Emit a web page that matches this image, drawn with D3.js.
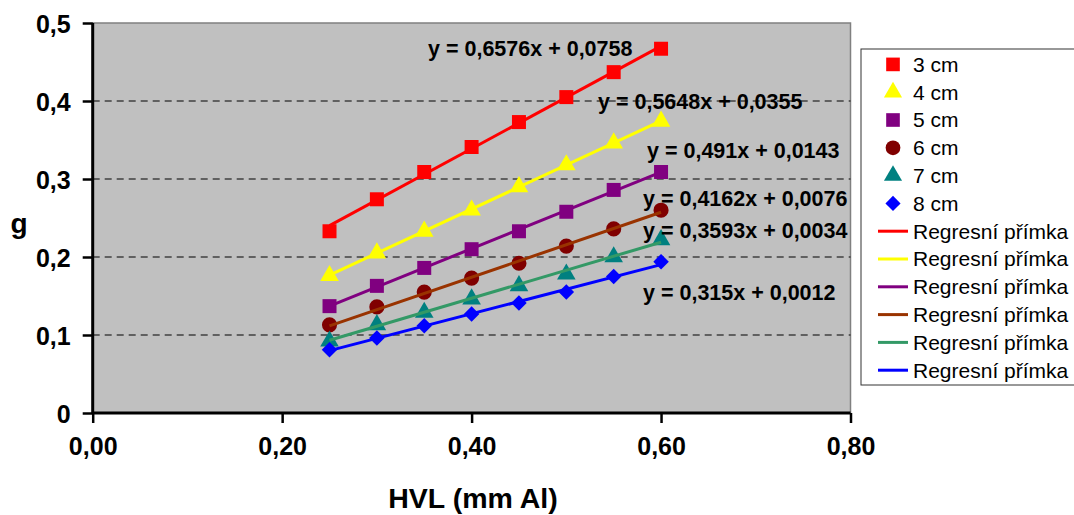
<!DOCTYPE html>
<html><head><meta charset="utf-8">
<script src="https://cdn.jsdelivr.net/npm/d3@7/dist/d3.min.js"></script>
<style>body{margin:0;background:#fff}svg{display:block;font-family:"Liberation Sans",Arial,sans-serif}</style>
</head><body>
<svg id="c" width="1074" height="515"></svg>
<script>
const xValues = [0.25, 0.30, 0.35, 0.40, 0.45, 0.50, 0.55, 0.60];
const seriesNames = ["3 cm", "4 cm", "5 cm", "6 cm", "7 cm", "8 cm"];
const g3 = [0.233, 0.274, 0.309, 0.341, 0.373, 0.405, 0.437, 0.467];
const g4 = [0.176, 0.205, 0.233, 0.260, 0.290, 0.318, 0.346, 0.374];
const g5 = [0.137, 0.163, 0.186, 0.210, 0.233, 0.258, 0.286, 0.309];
const g6 = [0.113, 0.136, 0.155, 0.173, 0.192, 0.214, 0.236, 0.260];
const g7 = [0.092, 0.113, 0.129, 0.146, 0.163, 0.178, 0.200, 0.222];
const g8 = [0.081, 0.096, 0.112, 0.127, 0.141, 0.155, 0.175, 0.194];
const slopes = [0.6576, 0.5648, 0.491, 0.4162, 0.3593, 0.315];
const intercepts = [0.0758, 0.0355, 0.0143, 0.0076, 0.0034, 0.0012];
const equationLabels = ["y = 0,6576x + 0,0758", "y = 0,5648x + 0,0355", "y = 0,491x + 0,0143",
  "y = 0,4162x + 0,0076", "y = 0,3593x + 0,0034", "y = 0,315x + 0,0012"];
const xTicks = [0, 0.2, 0.4, 0.6, 0.8];
const yTicks = [0, 0.1, 0.2, 0.3, 0.4, 0.5];
const trendName = "Regresní přímka";

const markerColors = ["#FF0000", "#FFFF00", "#800080", "#800000", "#008080", "#0000FF"];
const lineColors = ["#FF0000", "#FFFF00", "#800080", "#993300", "#339966", "#0000FF"];
const shapes = [d3.symbolSquare, d3.symbolTriangle, d3.symbolSquare, d3.symbolCircle, d3.symbolTriangle, d3.symbolSquare];
const rotations = [0, 0, 0, 0, 0, 45];
const sizes = [196, 150, 196, 180, 150, 120];
const labelPos = [[428, 56], [598, 108.5], [647, 158], [643, 205.5], [643, 237.5], [643, 300]];

const data = [g3, g4, g5, g6, g7, g8];
const svg = d3.select("#c");
const L = 92.7, R = 850.5, T = 23, B = 413;
const x = d3.scaleLinear().domain([0, 0.8]).range([L, R]);
const y = d3.scaleLinear().domain([0, 0.5]).range([B, T]);
const fmt = (d, dec) => d.toFixed(dec).replace(".", ",");

svg.append("rect").attr("x", L).attr("y", T).attr("width", R - L).attr("height", B - T)
  .attr("fill", "#C0C0C0").attr("stroke", "#808080").attr("stroke-width", 1.5);

// grid
svg.append("g").selectAll("line").data(yTicks.filter(d => d > 0 && d < 0.5)).join("line")
  .attr("x1", L).attr("x2", R).attr("y1", d => y(d)).attr("y2", d => y(d))
  .attr("stroke", "#000").attr("stroke-width", 1).attr("stroke-dasharray", "7,5");

// axes
const ya = svg.append("g").attr("transform", `translate(${L},0)`)
  .call(d3.axisLeft(y).tickValues(yTicks).tickSize(10).tickPadding(12).tickFormat(d => d === 0 ? "0" : fmt(d, 1)));
const xa = svg.append("g").attr("transform", `translate(0,${B})`)
  .call(d3.axisBottom(x).tickValues(xTicks).tickSize(10).tickPadding(14).tickFormat(d => fmt(d, 2)));
[ya, xa].forEach(a => {
  a.select(".domain").attr("stroke", "#000").attr("stroke-width", 3);
  a.selectAll(".tick line").attr("stroke", "#000").attr("stroke-width", 2.5);
  a.selectAll("text").attr("font-size", 25).attr("font-weight", "bold").attr("fill", "#000")
   .attr("font-family", "'Liberation Sans', Arial, sans-serif");
});
ya.select(".domain").attr("d", `M0,${T}V${B}`);
xa.select(".domain").attr("d", `M${L},0H${R}`);
ya.selectAll("text").attr("dy", "0.36em");

// markers
data.forEach((vals, i) => {
  const sym = d3.symbol().type(shapes[i]).size(sizes[i]);
  svg.append("g").selectAll("path").data(vals).join("path")
    .attr("d", sym)
    .attr("transform", (d, j) => `translate(${x(xValues[j])},${y(d)}) rotate(${rotations[i]})`)
    .attr("fill", markerColors[i]);
});
// trend lines
slopes.forEach((s, i) => {
  const x0 = d3.min(xValues), x1 = d3.max(xValues);
  svg.append("line")
    .attr("x1", x(x0)).attr("y1", y(s * x0 + intercepts[i]))
    .attr("x2", x(x1)).attr("y2", y(s * x1 + intercepts[i]))
    .attr("stroke", lineColors[i]).attr("stroke-width", 3);
});
// equation labels
equationLabels.forEach((t, i) => {
  svg.append("text").attr("x", labelPos[i][0]).attr("y", labelPos[i][1])
    .attr("font-size", 21.5).attr("font-weight", "bold").attr("fill", "#000").text(t);
});

// axis titles
svg.append("text").attr("x", 473).attr("y", 508).attr("text-anchor", "middle")
  .attr("font-size", 28.5).attr("font-weight", "bold").text("HVL (mm Al)");
svg.append("text").attr("x", 19).attr("y", 233).attr("text-anchor", "middle")
  .attr("font-size", 28).attr("font-weight", "bold").text("g");

// legend
svg.append("rect").attr("x", 861).attr("y", 49).attr("width", 230).attr("height", 336)
  .attr("fill", "#fff").attr("stroke", "#333").attr("stroke-width", 1);
const items = seriesNames.map((n, i) => ({type: "m", i, name: n}))
  .concat(slopes.map((s, i) => ({type: "l", i, name: trendName})));
items.forEach((it, k) => {
  const cy = 64.4 + k * 27.8;
  if (it.type === "m") {
    svg.append("path").attr("d", d3.symbol().type(shapes[it.i]).size(sizes[it.i] * 0.95)())
      .attr("transform", `translate(893,${cy}) rotate(${rotations[it.i]})`).attr("fill", markerColors[it.i]);
  } else {
    svg.append("line").attr("x1", 878).attr("x2", 908).attr("y1", cy).attr("y2", cy)
      .attr("stroke", lineColors[it.i]).attr("stroke-width", 3);
  }
  svg.append("text").attr("x", 913).attr("y", cy + 7.4).attr("font-size", 21).attr("fill", "#000").text(it.name);
});
</script>
</body></html>
